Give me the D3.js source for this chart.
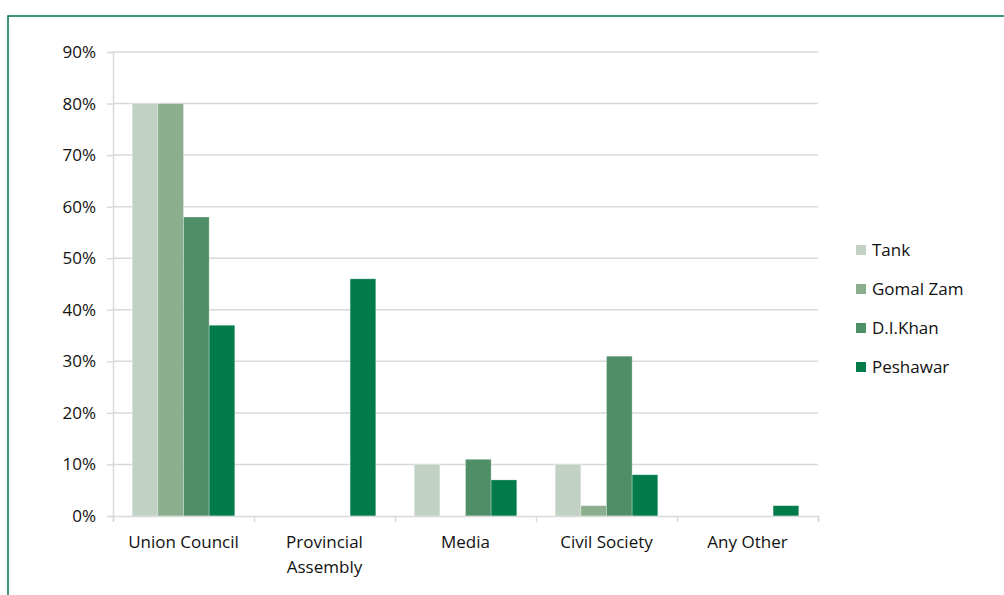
<!DOCTYPE html>
<html>
<head>
<meta charset="utf-8">
<script src="https://cdn.jsdelivr.net/npm/d3@7"></script>
<style>
  html, body { margin: 0; padding: 0; background: #fff; }
  svg { display: block; font-family: "Open Sans", "Noto Sans", sans-serif; }
</style>
</head>
<body>
<svg id="chart" width="1004" height="595"></svg>
<script>
// Categories and series (percent)
const categories = [["Union Council"], ["Provincial", "Assembly"], ["Media"], ["Civil Society"], ["Any Other"]];
const seriesNames = ["Tank", "Gomal Zam", "D.I.Khan", "Peshawar"];
const tank      = [80, 0, 10, 10, 0];
const gomalZam  = [80, 0, 0, 2, 0];
const diKhan    = [58, 0, 11, 31, 0];
const peshawar  = [37, 46, 7, 8, 2];
const seriesValues = [tank, gomalZam, diKhan, peshawar];
const colors = ["#c1d1c3", "#8bae8d", "#4f8f67", "#007b49"];
const yTicks = [0, 10, 20, 30, 40, 50, 60, 70, 80, 90];

const textColor = "#111";
const fontSize = 17;

const svg = d3.select("#chart");

// outer frame
svg.append("rect")
  .attr("x", 8).attr("y", 16).attr("width", 1020).attr("height", 600)
  .attr("fill", "none").attr("stroke", "#0d8050").attr("stroke-width", 1.6);

const plotLeft = 113, plotRight = 818, plotTop = 52, plotBottom = 516;

const x0 = d3.scaleBand().domain(d3.range(categories.length)).range([plotLeft, plotRight]).paddingInner(0).paddingOuter(0);
const x1 = d3.scaleBand().domain(d3.range(seriesNames.length)).range([0, x0.bandwidth()]).paddingOuter(0.75).paddingInner(0);
const y = d3.scaleLinear().domain([0, 90]).range([plotBottom, plotTop]);

// gridlines
svg.append("g").selectAll("line").data(yTicks.filter(d => d > 0)).join("line")
  .attr("x1", plotLeft).attr("x2", plotRight)
  .attr("y1", d => y(d)).attr("y2", d => y(d))
  .attr("stroke", "#d9d9d9").attr("stroke-width", 1.5);

// y axis
const yAxis = d3.axisLeft(y).tickValues(yTicks).tickFormat(d => d + "%").tickSize(6).tickPadding(11);
const gy = svg.append("g").attr("transform", `translate(${plotLeft},0)`).call(yAxis);
gy.select(".domain").attr("stroke", "#d9d9d9").attr("stroke-width", 1.5);
gy.selectAll(".tick line").attr("stroke", "#d9d9d9").attr("stroke-width", 1.5);
gy.selectAll(".tick text").attr("font-size", fontSize).attr("fill", textColor).attr("font-family", "Open Sans, sans-serif");

// bars
const groups = svg.append("g").selectAll("g").data(categories.map((c, i) => i)).join("g")
  .attr("transform", i => `translate(${x0(i)},0)`);
groups.selectAll("rect").data(i => seriesValues.map((s, k) => ({ k, v: s[i] })).filter(d => d.v > 0)).join("rect")
  .attr("x", d => x1(d.k))
  .attr("width", x1.bandwidth())
  .attr("y", d => y(d.v))
  .attr("height", d => y(0) - y(d.v))
  .attr("fill", d => colors[d.k])
  .attr("stroke", "rgba(255,255,255,0.35)")
  .attr("stroke-width", 0.8);

// x axis
const xAxis = d3.axisBottom(d3.scaleLinear().domain([0, categories.length]).range([plotLeft, plotRight]))
  .tickValues(d3.range(categories.length + 1)).tickSize(6).tickFormat("");
const gx = svg.append("g").attr("transform", `translate(0,${plotBottom})`).call(xAxis);
gx.select(".domain").attr("stroke", "#d9d9d9").attr("stroke-width", 1.5);
gx.selectAll(".tick line").attr("stroke", "#d9d9d9").attr("stroke-width", 1.5);

// category labels
svg.append("g").selectAll("text").data(categories).join("text")
  .attr("x", (d, i) => x0(i) + x0.bandwidth() / 2)
  .attr("y", 548)
  .attr("text-anchor", "middle")
  .attr("font-size", fontSize).attr("fill", textColor)
  .selectAll("tspan").data(d => d).join("tspan")
  .attr("x", function() { return this.parentNode.getAttribute("x"); })
  .attr("dy", (d, j) => j === 0 ? 0 : 25)
  .text(d => d);

// legend
const legend = svg.append("g").selectAll("g").data(seriesNames).join("g")
  .attr("transform", (d, i) => `translate(856,${250 + i * 39})`);
legend.append("rect").attr("x", 0).attr("y", -5).attr("width", 10).attr("height", 10)
  .attr("fill", (d, i) => colors[i]);
legend.append("text").attr("x", 16).attr("y", 6).attr("font-size", fontSize).attr("fill", textColor).text(d => d);
</script>
</body>
</html>
